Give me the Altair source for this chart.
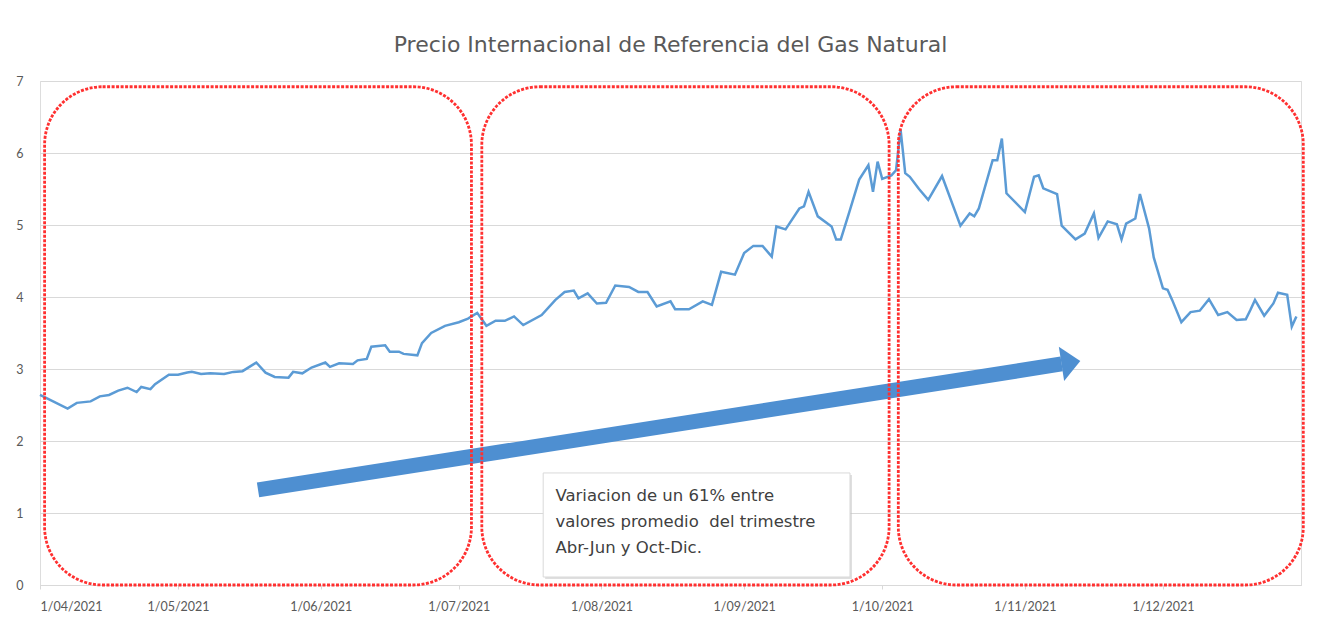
import altair as alt
import pandas as pd

# ---- price series ----
dates = [
    "2021-04-01", "2021-04-07", "2021-04-09", "2021-04-12", "2021-04-14", "2021-04-16",
    "2021-04-18", "2021-04-20", "2021-04-22", "2021-04-23", "2021-04-25", "2021-04-26",
    "2021-04-29", "2021-05-01", "2021-05-03", "2021-05-04", "2021-05-06", "2021-05-08",
    "2021-05-11", "2021-05-13", "2021-05-15", "2021-05-18", "2021-05-20", "2021-05-22",
    "2021-05-25", "2021-05-26", "2021-05-28", "2021-05-30", "2021-06-02", "2021-06-03",
    "2021-06-05", "2021-06-08", "2021-06-09", "2021-06-11", "2021-06-12", "2021-06-15",
    "2021-06-16", "2021-06-18", "2021-06-19", "2021-06-22", "2021-06-23", "2021-06-25",
    "2021-06-28", "2021-07-01", "2021-07-03", "2021-07-05", "2021-07-07", "2021-07-09",
    "2021-07-11", "2021-07-13", "2021-07-15", "2021-07-19", "2021-07-22", "2021-07-24",
    "2021-07-26", "2021-07-27", "2021-07-29", "2021-07-31", "2021-08-02", "2021-08-04",
    "2021-08-07", "2021-08-09", "2021-08-11", "2021-08-13", "2021-08-16", "2021-08-17",
    "2021-08-20", "2021-08-23", "2021-08-25", "2021-08-27", "2021-08-30", "2021-09-01",
    "2021-09-03", "2021-09-05", "2021-09-07", "2021-09-08", "2021-09-10", "2021-09-13",
    "2021-09-14", "2021-09-15", "2021-09-17", "2021-09-20", "2021-09-21", "2021-09-22",
    "2021-09-24", "2021-09-26", "2021-09-28", "2021-09-29", "2021-09-30", "2021-10-01",
    "2021-10-03", "2021-10-04", "2021-10-05", "2021-10-06", "2021-10-07", "2021-10-09",
    "2021-10-11", "2021-10-14", "2021-10-18", "2021-10-20", "2021-10-21", "2021-10-22",
    "2021-10-25", "2021-10-26", "2021-10-27", "2021-10-28", "2021-11-01", "2021-11-03",
    "2021-11-04", "2021-11-05", "2021-11-08", "2021-11-09", "2021-11-12", "2021-11-14",
    "2021-11-16", "2021-11-17", "2021-11-19", "2021-11-21", "2021-11-22", "2021-11-23",
    "2021-11-25", "2021-11-26", "2021-11-28", "2021-11-29", "2021-12-01", "2021-12-02",
    "2021-12-03", "2021-12-05", "2021-12-07", "2021-12-09", "2021-12-11", "2021-12-13",
    "2021-12-15", "2021-12-17", "2021-12-19", "2021-12-20", "2021-12-21", "2021-12-23",
    "2021-12-25", "2021-12-26", "2021-12-28", "2021-12-29", "2021-12-30",
]
prices = [
    2.64, 2.45, 2.53, 2.55, 2.62, 2.64,
    2.70, 2.74, 2.68, 2.75, 2.72, 2.79,
    2.92, 2.92, 2.95, 2.96, 2.93, 2.94,
    2.93, 2.96, 2.97, 3.09, 2.95, 2.89,
    2.88, 2.96, 2.94, 3.02, 3.09, 3.03,
    3.08, 3.07, 3.12, 3.14, 3.31, 3.33,
    3.24, 3.24, 3.21, 3.19, 3.36, 3.50,
    3.60, 3.65, 3.70, 3.78, 3.60, 3.67,
    3.67, 3.73, 3.61, 3.75, 3.96, 4.07,
    4.09, 3.98, 4.05, 3.91, 3.92, 4.16,
    4.14, 4.07, 4.07, 3.87, 3.94, 3.83,
    3.83, 3.94, 3.89, 4.35, 4.31, 4.61,
    4.71, 4.71, 4.56, 4.98, 4.94, 5.23,
    5.26, 5.46, 5.12, 4.98, 4.80, 4.80,
    5.21, 5.63, 5.83, 5.46, 5.88, 5.64,
    5.69, 5.76, 6.32, 5.72, 5.67, 5.50,
    5.35, 5.68, 4.99, 5.16, 5.12, 5.23,
    5.90, 5.90, 6.20, 5.44, 5.18, 5.67,
    5.69, 5.51, 5.43, 4.99, 4.80, 4.88,
    5.16, 4.82, 5.05, 5.01, 4.80, 5.02,
    5.09, 5.43, 4.95, 4.55, 4.12, 4.10,
    3.96, 3.65, 3.79, 3.81, 3.97, 3.75,
    3.79, 3.68, 3.69, 3.82, 3.96, 3.74,
    3.91, 4.06, 4.03, 3.59, 3.73,
]

# ---- annotation data (in data units) ----
quarter_start = ["2021-04-02T00:00", "2021-07-06T00:00", "2021-10-04T12:00"]
quarter_end = ["2021-07-03T18:00", "2021-10-02T12:00", "2021-12-31T12:00"]
quarter_top = [6.92, 6.92, 6.92]
quarter_bottom = [0.0, 0.0, 0.0]

arrow_tail = ["2021-05-18T09:00", 1.32]
arrow_base = ["2021-11-09T00:00", 3.07]
arrow_head = ["2021-11-11T00:00", 3.09]

note_box = ["2021-07-19T08:00", "2021-09-24T00:00", 1.556, 0.111]
note_lines = [
    "Variacion de un 61% entre",
    "valores promedio\u00a0 del trimestre",
    "Abr-Jun y Oct-Dic.",
]
note_x = "2021-07-22T00:00"
note_y = [1.236, 0.875, 0.514]

title_text = "Precio Internacional de Referencia del Gas Natural"
tick_months = [4, 5, 6, 7, 8, 9, 10, 11, 12]
y_ticks = [0, 1, 2, 3, 4, 5, 6, 7]

AXFONT = "Lato"
TXTFONT = "DejaVu Sans"
GREY = "#595959"
LINE_BLUE = "#5B9BD5"
ARROW_BLUE = "#4E8FD1"
RED = "#FF3030"

price_df = pd.DataFrame({"date": dates, "price": prices})
box_df = pd.DataFrame({"start": quarter_start, "end": quarter_end,
                       "top": quarter_top, "bottom": quarter_bottom})
shaft_df = pd.DataFrame({"x": [arrow_tail[0]], "x2": [arrow_base[0]],
                         "y": [arrow_tail[1]], "y2": [arrow_base[1]]})
head_df = pd.DataFrame({"x": [arrow_head[0]], "y": [arrow_head[1]]})
note_df = pd.DataFrame({"x": [note_box[0]], "x2": [note_box[1]],
                        "y": [note_box[2]], "y2": [note_box[3]]})
text_df = pd.DataFrame({"x": [note_x] * 3, "y": note_y, "t": note_lines})

x_scale = alt.Scale(
    type="utc",
    domain=[alt.DateTime(year=2021, month=4, date=1, utc=True),
            alt.DateTime(year=2021, month=12, date=31, utc=True)],
)
y_scale = alt.Scale(domain=[0, 7], nice=False)

x_axis = alt.Axis(
    values=[alt.DateTime(year=2021, month=m, date=1, utc=True) for m in tick_months],
    labelExpr="utcFormat(datum.value, '%-d/%m/%Y')", grid=False,
    domainColor="#D9D9D9", tickColor="#D9D9D9", tickSize=4,
    labelFont=AXFONT, labelFontSize=12.5, labelColor=GREY, labelPadding=11,
    title=None,
)
y_axis = alt.Axis(
    values=y_ticks, labelExpr="format(datum.value, 'd')",
    grid=True, gridColor="#D9D9D9", gridWidth=1,
    domain=False, ticks=False,
    labelFont=AXFONT, labelFontSize=12.5, labelColor=GREY, labelPadding=17,
    title=None,
)

line = alt.Chart(price_df).mark_line(color=LINE_BLUE, strokeWidth=2.5).encode(
    x=alt.X("date:T", scale=x_scale, axis=x_axis),
    y=alt.Y("price:Q", scale=y_scale, axis=y_axis),
)

shaft = alt.Chart(shaft_df).mark_rule(color=ARROW_BLUE, strokeWidth=15, strokeCap="butt").encode(
    x="x:T", x2="x2:T", y="y:Q", y2="y2:Q",
)

head = alt.Chart(head_df).mark_point(
    shape="M 0.55 0 L -0.55 -1 L -0.55 1 Z", size=1200, angle=351.2,
    filled=True, opacity=1, color=ARROW_BLUE,
).encode(x="x:T", y="y:Q")

boxes = alt.Chart(box_df).mark_rect(
    fillOpacity=0, stroke=RED, strokeWidth=2.8, strokeDash=[3, 1.5], cornerRadius=58,
).encode(x="start:T", x2="end:T", y="top:Q", y2="bottom:Q")

shadow = alt.Chart(note_df).mark_rect(
    color="#BFBFBF", opacity=0.5, xOffset=2, x2Offset=2, yOffset=2, y2Offset=2,
).encode(x="x:T", x2="x2:T", y="y:Q", y2="y2:Q")

note = alt.Chart(note_df).mark_rect(
    fill="white", stroke="#D9D9D9", strokeWidth=1,
).encode(x="x:T", x2="x2:T", y="y:Q", y2="y2:Q")

text = alt.Chart(text_df).mark_text(
    align="left", baseline="middle", font=TXTFONT, fontSize=16.5, color="#404040",
).encode(x="x:T", y="y:Q", text="t:N")

chart = alt.layer(line, shaft, head, boxes, shadow, note, text).properties(
    width=1261, height=504,
    autosize=alt.AutoSizeParams(type="none"),
    padding={"left": 32, "top": 73, "right": 10, "bottom": 30},
    title=alt.TitleParams(title_text, font=TXTFONT, fontSize=22, fontWeight="normal",
                          color=GREY, anchor="middle", offset=18),
).configure_view(strokeWidth=0).configure(background="white")

chart.save("out.html", embed_options={"renderer": "svg", "actions": False})
